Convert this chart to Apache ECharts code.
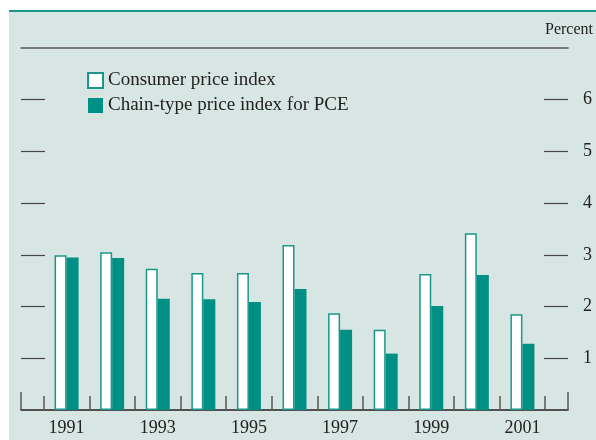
<!DOCTYPE html>
<html>
<head>
<meta charset="utf-8">
<script src="https://cdn.jsdelivr.net/npm/echarts@6/dist/echarts.min.js"></script>
<style>
  body { margin: 0; background: #ffffff; }
  #panel { position: absolute; left: 9px; top: 10px; width: 587px; height: 430px;
           background: #d8e6e3; border-top: 2px solid #1a978a; }
  #chart { position: absolute; left: 0; top: 0; width: 596px; height: 440px; }
</style>
</head>
<body>
<div id="panel"></div>
<div id="chart"></div>
<script>
var years = [1991, 1992, 1993, 1994, 1995, 1996, 1997, 1998, 1999, 2000, 2001];
var cpi = [2.99, 3.05, 2.73, 2.65, 2.65, 3.19, 1.87, 1.55, 2.63, 3.42, 1.85];
var pce = [2.95, 2.94, 2.15, 2.14, 2.09, 2.34, 1.55, 1.09, 2.01, 2.61, 1.28];
var yearLabels = [1991, 1993, 1995, 1997, 1999, 2001];
var yTicks = [1, 2, 3, 4, 5, 6];
var innerTicks = [1990.5, 1991.5, 1992.5, 1993.5, 1994.5, 1995.5, 1996.5, 1997.5, 1998.5, 1999.5, 2000.5, 2001.5];
var endTicks = [1990, 2002];

var teal = '#008f84';
var font = '"Liberation Serif", "DejaVu Serif", serif';

function pairs(vals) {
    return years.map(function (y, i) { return [y, vals[i]]; });
}

var chart = echarts.init(document.getElementById('chart'));
var option = {
    backgroundColor: 'transparent',
    animation: false,
    textStyle: { fontFamily: font },
    grid: { left: 21, right: 27, top: 48, bottom: 30 },
    legend: {
        left: 82,
        top: 66,
        orient: 'vertical',
        itemWidth: 15,
        itemHeight: 15,
        itemGap: 6,
        icon: 'rect',
        textStyle: { fontFamily: font, fontSize: 19, color: '#222' },
        data: ['Consumer price index', 'Chain-type price index for PCE']
    },
    xAxis: [{
        type: 'value',
        min: 1990,
        max: 2002,
        splitLine: { show: false },
        axisLine: { show: true, lineStyle: { color: '#222', width: 1.5 } },
        axisTick: { show: true, inside: true, length: 14, customValues: innerTicks,
                    lineStyle: { color: '#555', width: 1.5 } },
        axisLabel: { customValues: yearLabels, margin: 9, fontSize: 18, color: '#222',
                     fontFamily: font, formatter: function (v) { return String(v); } }
    }, {
        type: 'value',
        min: 1990,
        max: 2002,
        position: 'bottom',
        splitLine: { show: false },
        axisLine: { show: false },
        axisTick: { show: true, inside: true, length: 18, customValues: endTicks,
                    lineStyle: { color: '#555', width: 1.5 } },
        axisLabel: { show: false }
    }, {
        type: 'value',
        min: 1990,
        max: 2002,
        position: 'top',
        splitLine: { show: false },
        axisLine: { show: true, lineStyle: { color: '#555', width: 1.5 } },
        axisTick: { show: false },
        axisLabel: { show: false }
    }],
    yAxis: [{
        type: 'value',
        min: 0,
        max: 7,
        interval: 1,
        position: 'left',
        splitLine: { show: false },
        axisLine: { show: false },
        axisTick: { show: true, inside: true, length: 24, customValues: yTicks,
                    lineStyle: { color: '#444', width: 1.2 } },
        axisLabel: { show: false }
    }, {
        type: 'value',
        min: 0,
        max: 7,
        interval: 1,
        position: 'right',
        name: 'Percent',
        nameLocation: 'end',
        nameGap: 10,
        nameTextStyle: { fontFamily: font, fontSize: 16, color: '#222', padding: [0, 0, 0, 2] },
        splitLine: { show: false },
        axisLine: { show: false },
        axisTick: { show: true, inside: true, length: 24, customValues: yTicks,
                    lineStyle: { color: '#444', width: 1.2 } },
        axisLabel: { customValues: yTicks, margin: 15, fontSize: 18, color: '#222',
                     fontFamily: font }
    }],
    series: [{
        name: 'Consumer price index',
        type: 'bar',
        xAxisIndex: 0,
        yAxisIndex: 0,
        barWidth: 12,
        barGap: '0%',
        itemStyle: { color: '#ffffff', borderColor: '#1a978a', borderWidth: 1.5 },
        data: pairs(cpi)
    }, {
        name: 'Chain-type price index for PCE',
        type: 'bar',
        xAxisIndex: 0,
        yAxisIndex: 0,
        barWidth: 12,
        barGap: '0%',
        itemStyle: { color: teal },
        data: pairs(pce)
    }]
};
chart.setOption(option);
</script>
</body>
</html>
